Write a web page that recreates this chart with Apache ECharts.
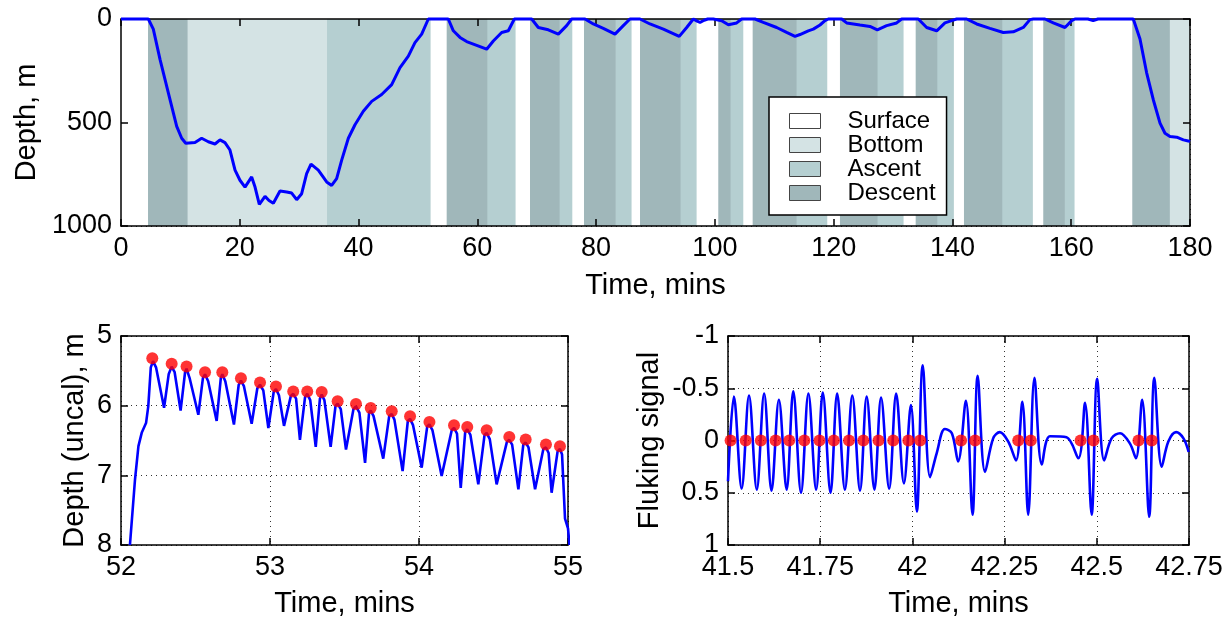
<!DOCTYPE html>
<html><head><meta charset="utf-8">
<script src="https://cdn.jsdelivr.net/npm/echarts@6/dist/echarts.min.js"></script>
<style>html,body{margin:0;padding:0;background:#fff}#c{width:1232px;height:621px}</style>
</head><body><div id="c"></div><script>
// ---------- DATA ----------
const phaseNames = ['Surface', 'Bottom', 'Ascent', 'Descent'];
const surfaceIntervals = [[0,4.55],[52.03,54.84],[66.34,68.87],[75.89,77.96],[85.87,87.39],[96.82,100.57],[104.68,106.36],[118.82,121.06],[131.67,133.81],[140.14,141.94],[153.44,155.29],[160.46,170.28]];
const bottomIntervals = [[11.11,34.69],[176.51,180]];
const ascentIntervals = [[34.69,52.03],[61.58,66.34],[73.75,75.89],[83.18,85.87],[94.12,96.82],[102.54,104.68],[113.65,118.82],[127.29,131.67],[137.35,140.14],[148.29,153.44],[158.83,160.46]];
const descentIntervals = [[4.55,11.11],[54.84,61.58],[68.87,73.75],[77.96,83.18],[87.39,94.12],[100.57,102.54],[106.36,113.65],[121.06,127.29],[133.81,137.35],[141.94,148.29],[155.29,158.83],[170.28,176.51]];

const diveTime = [0,4.6,5.44,6.57,7.97,9.38,10.22,10.9,12.46,13.58,14.7,15.83,16.67,17.51,18.35,19.2,20.03,20.88,22.0,22.57,23.29,24.25,24.92,25.65,26.77,27.9,28.74,29.58,30.42,31.26,31.99,33.22,34.63,35.47,36.31,37.16,38.28,39.4,40.8,42.21,43.89,45.58,46.98,48.38,49.5,50.63,51.75,55.11,55.96,57.08,58.2,59.89,61.57,62.69,64.1,65.22,66.23,69.15,70.27,71.95,73.64,75.04,75.88,78.13,79.53,81.21,83.18,84.58,85.7,87.39,89.07,91.32,94.0,95.25,96.37,97.0,97.5,98.2,98.8,99.73,101.14,102.27,103.67,104.51,106.75,108.15,110.4,112.08,113.49,114.33,115.73,116.57,117.7,118.54,119.1,121.35,122.19,124.43,126.11,127.35,128.92,130.61,131.45,134.25,135.66,137.35,138.74,139.87,140.71,142.39,144.08,146.32,148.56,150.25,151.93,153.05,153.61,155.58,156.98,158.95,160.08,160.63,162.8,163.7,164.5,170.45,171.58,172.7,173.82,174.95,175.79,176.63,177.76,178.88,179.7,180];
const diveDepth = [0,0,49,195,357,519,576,600,597,576,593,604,584,597,633,730,779,812,763,812,896,857,877,890,831,836,841,873,844,747,701,730,787,804,771,682,576,511,446,398,365,317,235,179,114,73,0,0,57,89,109,127,146,106,65,57,0,0,41,52,73,32,0,0,24,45,73,32,0,0,24,49,84,41,0,10,16,6,0,0,8,28,19,0,0,16,41,65,84,75,57,49,29,8,0,0,19,29,36,52,32,19,0,0,41,57,19,8,0,0,24,45,65,62,41,3,0,0,19,41,8,0,0,8,0,0,97,260,390,503,552,568,571,584,589,592];

const fineTime = [52.06,52.094,52.117,52.139,52.168,52.183,52.2,52.215,52.235,52.289,52.32,52.34,52.36,52.40,52.43,52.44,52.46,52.519,52.55,52.564,52.585,52.642,52.67,52.68,52.70,52.758,52.79,52.805,52.825,52.877,52.915,52.933,52.955,52.989,53.025,53.04,53.06,53.094,53.14,53.156,53.175,53.201,53.235,53.25,53.27,53.307,53.335,53.347,53.365,53.407,53.44,53.454,53.475,53.51,53.56,53.577,53.60,53.638,53.665,53.676,53.695,53.76,53.80,53.817,53.835,53.89,53.925,53.94,53.96,54.018,54.055,54.07,54.09,54.152,54.22,54.235,54.255,54.28,54.31,54.324,54.345,54.398,54.44,54.454,54.475,54.521,54.59,54.606,54.625,54.667,54.70,54.716,54.735,54.779,54.835,54.852,54.87,54.89,54.93,54.946,54.96,54.98,55.0,55.01];
const fineDepth = [8.0,7.06,6.58,6.39,6.25,6.01,5.45,5.36,5.45,6.03,5.55,5.44,5.52,6.07,5.52,5.47,5.6,6.13,5.6,5.55,5.65,6.22,5.6,5.55,5.65,6.27,5.7,5.64,5.72,6.26,5.75,5.70,5.78,6.32,5.8,5.76,5.85,6.29,5.86,5.83,5.9,6.49,5.88,5.83,5.92,6.59,5.9,5.84,5.92,6.59,6.0,5.97,6.05,6.63,6.05,6.01,6.1,6.82,6.1,6.07,6.15,6.76,6.15,6.12,6.2,6.94,6.22,6.19,6.28,6.89,6.3,6.27,6.35,7.01,6.35,6.32,6.4,7.18,6.38,6.34,6.42,7.13,6.42,6.39,6.48,7.13,6.52,6.49,6.56,7.2,6.56,6.53,6.6,7.2,6.62,6.6,6.68,7.25,6.66,6.62,6.7,7.62,7.76,8.0];

const peakTime = [52.21,52.34,52.44,52.564,52.68,52.805,52.933,53.04,53.156,53.25,53.347,53.454,53.577,53.676,53.817,53.94,54.07,54.235,54.324,54.454,54.606,54.716,54.852,54.946];
const peakDepth = [5.319,5.40,5.438,5.519,5.519,5.605,5.667,5.724,5.795,5.795,5.805,5.938,5.976,6.033,6.081,6.152,6.233,6.281,6.305,6.352,6.448,6.486,6.557,6.581];

const flukeTime = [41.5,41.516,41.537,41.557,41.578,41.598,41.618,41.638,41.659,41.677,41.698,41.718,41.739,41.757,41.778,41.796,41.817,41.837,41.858,41.876,41.897,41.915,41.937,41.956,41.977,41.996,42.012,42.028,42.048,42.066,42.088,42.107,42.124,42.145,42.163,42.177,42.197,42.219,42.237,42.26,42.281,42.298,42.314,42.331,42.351,42.373,42.418,42.45,42.468,42.486,42.501,42.52,42.54,42.563,42.59,42.606,42.623,42.642,42.656,42.676,42.694,42.715,42.735,42.749];
const flukeSignal = [0.39,-0.42,0.46,-0.43,0.47,-0.45,0.48,-0.39,0.47,-0.47,0.50,-0.45,0.47,-0.46,0.50,-0.45,0.47,-0.43,0.48,-0.42,0.47,-0.41,0.46,-0.45,0.41,-0.34,0.68,-0.72,0.35,0.12,-0.11,-0.07,0.20,-0.38,0.71,-0.62,0.30,-0.02,-0.08,0.01,0.19,-0.37,0.71,-0.60,0.23,-0.04,-0.03,0.17,-0.36,0.71,-0.59,0.19,-0.02,-0.07,0.03,0.17,-0.39,0.73,-0.60,0.25,0.01,-0.08,-0.02,0.11];

const strokeTime = [41.507,41.548,41.589,41.629,41.666,41.707,41.748,41.787,41.828,41.867,41.908,41.948,41.989,42.021,42.132,42.170,42.287,42.321,42.456,42.491,42.613,42.649];
const strokeSignal = [0,0,0,0,0,0,0,0,0,0,0,0,0,0,0,0,0,0,0,0,0,0];

const topXTicks = {min:0, max:180, interval:20};
const topYTicks = {min:0, max:1000, interval:500};
const blXTicks = {min:52, max:55, interval:1};
const blYTicks = {min:5, max:8, interval:1};
const brXTicks = {min:41.5, max:42.75, interval:0.25};
const brYTicks = {min:-1, max:1, interval:0.5};

// ---------- STYLE ----------
const FONT = 'Liberation Sans';
const phaseColors = {Surface:'#ffffff', Bottom:'#d4e3e4', Ascent:'#b5cfd1', Descent:'#a0b7ba'};
const phaseData = {Surface:surfaceIntervals, Bottom:bottomIntervals, Ascent:ascentIntervals, Descent:descentIntervals};
const zip = (a,b) => a.map((v,i)=>[v,b[i]]);

function frameAxis(grid, pos, t, inverse){
  return {type:'value', gridIndex:grid, position:pos, min:t.min, max:t.max, interval:t.interval, inverse:!!inverse, z:4,
    axisLine:{show:true, onZero:false, lineStyle:{color:'#000', width:1.5}},
    axisTick:{show:true, inside:true, length:7, lineStyle:{color:'#000', width:1.5}},
    axisLabel:{show:false}, splitLine:{show:false}};
}
function mainAxis(grid, pos, t, inverse, name, nameGap, showLine){
  return {type:'value', gridIndex:grid, position:pos, min:t.min, max:t.max, interval:t.interval, inverse:!!inverse, z: showLine?4:0,
    name:name, nameLocation:'middle', nameGap:nameGap,
    nameTextStyle:{fontFamily:FONT, fontSize:29, color:'#000'},
    axisLine:{show:showLine, onZero:false, lineStyle:{color:'#000', width:1.5}},
    axisTick:{show:showLine, inside:true, length:7, lineStyle:{color:'#000', width:1.5}},
    axisLabel:{fontFamily:FONT, fontSize:27, color:'#000', margin:9, formatter: v => String(v)},
    splitLine:{show:true, lineStyle:{color:'#333', width:1, type:[1,4]}}};
}
function phaseRender(params, api){
  const s = api.coord([api.value(0), topYTicks.min]);
  const e = api.coord([api.value(1), topYTicks.max]);
  return {type:'rect', shape:{x:s[0], y:s[1], width:e[0]-s[0]+0.6, height:e[1]-s[1]},
    style:{fill: api.visual('color')}};
}

const series = phaseNames.map(n => ({
  type:'custom', name:n, xAxisIndex:0, yAxisIndex:0, z:1, clip:true,
  renderItem: phaseRender, encode:{x:[0,1]},
  itemStyle:{color:phaseColors[n]},
  data: phaseData[n]
}));
series.push({type:'line', xAxisIndex:0, yAxisIndex:0, z:6, clip:false, showSymbol:false,
  lineStyle:{color:'#0000ff', width:3}, data: zip(diveTime, diveDepth)});
series.push({type:'line', xAxisIndex:3, yAxisIndex:3, z:6, clip:false, showSymbol:false,
  lineStyle:{color:'#0000ff', width:2.6}, data: zip(fineTime, fineDepth)});
series.push({type:'scatter', xAxisIndex:3, yAxisIndex:3, z:7, symbolSize:12,
  itemStyle:{color:'#ff0000'}, data: zip(peakTime, peakDepth)});
series.push({type:'line', xAxisIndex:5, yAxisIndex:5, z:6, clip:false, showSymbol:false, smooth:0.35,
  lineStyle:{color:'#0000ff', width:2.6}, data: zip(flukeTime, flukeSignal)});
series.push({type:'scatter', xAxisIndex:5, yAxisIndex:5, z:7, symbolSize:12,
  itemStyle:{color:'#ff0000'}, data: zip(strokeTime, strokeSignal)});

const option = {
  animation:false,
  backgroundColor:'#ffffff',
  grid:[
    {left:121, top:19, width:1069, height:207},
    {left:121, top:336, width:447, height:209},
    {left:728, top:336, width:461, height:209}
  ],
  xAxis:[
    mainAxis(0,'bottom',topXTicks,false,'Time, mins',45,false),
    frameAxis(0,'bottom',topXTicks),
    frameAxis(0,'top',topXTicks),
    mainAxis(1,'bottom',blXTicks,false,'Time, mins',44,true),
    frameAxis(1,'top',blXTicks),
    mainAxis(2,'bottom',brXTicks,false,'Time, mins',44,true),
    frameAxis(2,'top',brXTicks)
  ],
  yAxis:[
    mainAxis(0,'left',topYTicks,true,'Depth, m',76,false),
    frameAxis(0,'left',topYTicks,true),
    frameAxis(0,'right',topYTicks,true),
    mainAxis(1,'left',blYTicks,true,'Depth (uncal), m',32,true),
    frameAxis(1,'right',blYTicks,true),
    mainAxis(2,'left',brYTicks,true,'Fluking signal',64,true),
    frameAxis(2,'right',brYTicks,true)
  ],
  legend:{
    orient:'vertical', left:769, top:97, z:10,
    data: phaseNames, selectedMode:false,
    backgroundColor:'#ffffff', borderColor:'#000', borderWidth:1.5,
    padding:[12,11,10,20],
    itemWidth:31, itemHeight:15, itemGap:0, icon:'rect',
    itemStyle:{borderColor:'#444', borderWidth:1},
    textStyle:{fontFamily:FONT, fontSize:24, lineHeight:21, color:'#000', padding:[0,0,0,22]}
  },
  series: series
};
const chart = echarts.init(document.getElementById('c'), null, {renderer:'canvas'});
chart.setOption(option);
</script></body></html>
